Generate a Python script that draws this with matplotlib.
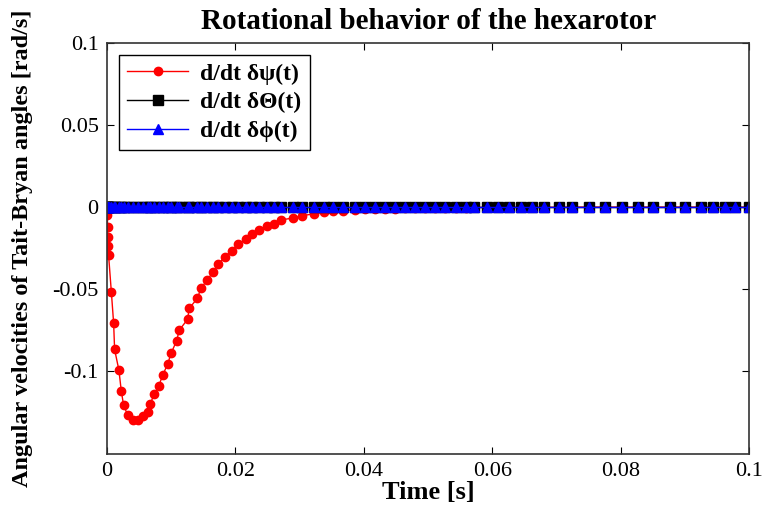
import matplotlib
matplotlib.use("Agg")
import matplotlib.pyplot as plt
import numpy as np

plt.rcParams['font.family'] = ['Liberation Serif', 'DejaVu Serif']

# time steps of the solver output [s]
t = [0.0, 0.00005, 0.0001, 0.00015, 0.0002, 0.00025,
     0.00068, 0.00104, 0.00119, 0.00186, 0.00223, 0.00259, 0.00325,
     0.00402, 0.0048, 0.00557, 0.00635, 0.00672, 0.00738, 0.00805,
     0.00867, 0.00944, 0.00997, 0.01084, 0.01125, 0.01254, 0.0128,
     0.01409, 0.01461, 0.01563, 0.01652, 0.01734, 0.01837, 0.0195,
     0.02043, 0.02158, 0.0226, 0.02364, 0.02492, 0.02596, 0.02715,
     0.0289, 0.03037, 0.03215, 0.03375, 0.03525, 0.0368, 0.0386,
     0.04015, 0.0417, 0.04325, 0.0448, 0.04635, 0.0479, 0.04944,
     0.051, 0.05254, 0.05433, 0.05588, 0.05718, 0.05909, 0.06079,
     0.0626, 0.0644, 0.06621, 0.06802, 0.07034, 0.0724, 0.07498,
     0.07755, 0.08014, 0.08272, 0.08504, 0.08762, 0.08994, 0.09252,
     0.09433, 0.09613, 0.09768, 0.1]

# d/dt delta psi [rad/s]
psi_dot = [0.0, -0.0047, -0.0124, -0.018, -0.0237, -0.0293,
           -0.0516, -0.0709, -0.0868, -0.0994, -0.1121, -0.1208, -0.127,
           -0.13, -0.1296, -0.1276, -0.1249, -0.1198, -0.1141, -0.1092,
           -0.1025, -0.0958, -0.0892, -0.0815, -0.075, -0.0685, -0.0617,
           -0.0556, -0.0495, -0.0444, -0.0394, -0.0347, -0.0302, -0.0265,
           -0.0224, -0.0196, -0.0163, -0.0139, -0.0114, -0.0102, -0.0078,
           -0.0067, -0.0053, -0.0041, -0.0033, -0.0027, -0.0021, -0.0017,
           -0.0013, -0.0012, -0.001, -0.0009, -0.0007, -0.0006, -0.0005,
           -0.0005, -0.0004, -0.0003, -0.0003, -0.0002, -0.0002, -0.0002,
           -0.0001, -0.0001, -0.0001, -0.0001, -0.0001, 0.0, 0.0,
           0.0, 0.0, 0.0, 0.0, 0.0, 0.0, 0.0,
           0.0, 0.0, 0.0, 0.0]

# d/dt delta theta and d/dt delta phi stay at zero
theta_dot = [0.0] * len(t)
phi_dot = [0.0] * len(t)

fig = plt.figure(figsize=(7.64, 5.13), dpi=100)
ax = fig.add_axes([0.14, 0.115, 0.841, 0.8012])

ax.plot(t, psi_dot, '-o', color='red', mfc='red', mec='red', markersize=6, linewidth=1,
        label='d/dt δψ(t)')
ax.plot(t, theta_dot, '-s', color='black', mfc='black', mec='black', markersize=6.5, linewidth=1,
        label='d/dt δΘ(t)')
ax.plot(t, phi_dot, '-^', color='blue', mfc='blue', mec='blue', markersize=6.5, linewidth=1,
        label='d/dt δϕ(t)')

ax.set_xlim(0, 0.1)
ax.set_ylim(-0.1505, 0.1)
ax.set_xticks([0, 0.02, 0.04, 0.06, 0.08, 0.1])
ax.set_xticklabels(['0', '0.02', '0.04', '0.06', '0.08', '0.1'])
ax.set_yticks([-0.1, -0.05, 0, 0.05, 0.1])
ax.set_yticklabels(['-0.1', '-0.05', '0', '0.05', '0.1'])
ax.tick_params(direction='in', top=True, right=True, labelsize=16, length=5, pad=6)
for s in ax.spines.values():
    s.set_linewidth(1.2)
    s.set_color('#333333')

ax.set_title('Rotational behavior of the hexarotor', fontsize=21, fontweight='bold', pad=10)
ax.set_xlabel('Time [s]', fontsize=19, fontweight='bold', labelpad=0)
ax.set_ylabel('Angular velocities of Tait-Bryan angles [rad/s]', fontsize=17.5, fontweight='bold',
              labelpad=14)

leg = ax.legend(loc='upper left', prop={'size': 17, 'weight': 'bold'}, fancybox=False,
                edgecolor='black', framealpha=1, handlelength=2.6, borderaxespad=0.5,
                labelspacing=0.3, borderpad=0.35, handletextpad=0.5)
leg.get_frame().set_linewidth(1.0)

fig.savefig('out.png', dpi=100)
